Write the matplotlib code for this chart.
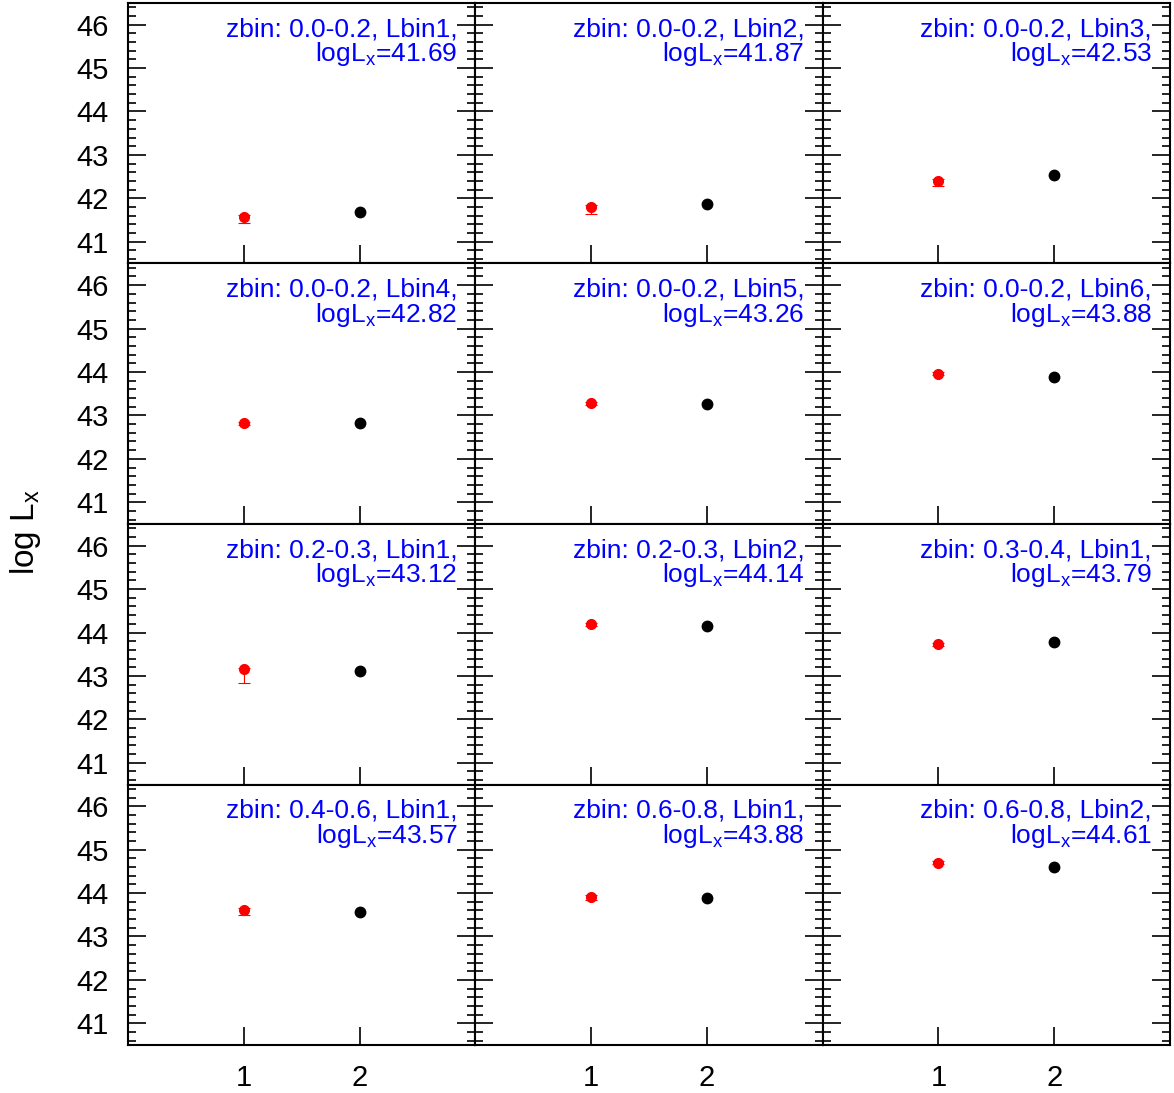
import matplotlib
matplotlib.use('Agg')
import matplotlib.pyplot as plt
from matplotlib.ticker import MultipleLocator

plt.rcParams['font.family'] = ['Liberation Sans', 'DejaVu Sans']
plt.rcParams['mathtext.fontset'] = 'custom'
plt.rcParams['mathtext.rm'] = 'Liberation Sans'
plt.rcParams['mathtext.it'] = 'Liberation Sans'

# redshift / luminosity bins, one per panel (row-major)
zbins = ['0.0-0.2', '0.0-0.2', '0.0-0.2',
         '0.0-0.2', '0.0-0.2', '0.0-0.2',
         '0.2-0.3', '0.2-0.3', '0.3-0.4',
         '0.4-0.6', '0.6-0.8', '0.6-0.8']
lbins = ['Lbin1', 'Lbin2', 'Lbin3',
         'Lbin4', 'Lbin5', 'Lbin6',
         'Lbin1', 'Lbin2', 'Lbin1',
         'Lbin1', 'Lbin1', 'Lbin2']
# reference luminosity (black point, x=2)
logLx = [41.69, 41.87, 42.53,
         42.82, 43.26, 43.88,
         43.12, 44.14, 43.79,
         43.57, 43.88, 44.61]
# estimated luminosity (red point, x=1) with asymmetric errors
est = [41.58, 41.81, 42.41,
       42.83, 43.29, 43.96,
       43.15, 44.19, 43.74,
       43.62, 43.92, 44.70]
err_lo = [0.14, 0.16, 0.12,
          0.05, 0.06, 0.04,
          0.32, 0.04, 0.06,
          0.13, 0.08, 0.03]
err_hi = [0.03, 0.03, 0.03,
          0.03, 0.03, 0.03,
          0.03, 0.03, 0.03,
          0.03, 0.03, 0.03]

fig, axes = plt.subplots(4, 3, figsize=(11.74, 10.93), dpi=100,
                         sharex=True, sharey=True)
fig.subplots_adjust(left=0.109, right=0.9966, top=0.9973, bottom=0.0439,
                    wspace=0, hspace=0)

for i, ax in enumerate(axes.flat):
    ax.errorbar([1], [est[i]], yerr=[[err_lo[i]], [err_hi[i]]], fmt='o',
                color='red', ms=7, elinewidth=0.8, capsize=4, capthick=0.8)
    ax.plot([2], [logLx[i]], 'o', color='black', ms=7.5)
    ax.text(0.948, 0.945,
            'zbin: %s, %s,\nlogL$_\\mathrm{x}$=%.2f' % (zbins[i], lbins[i], logLx[i]),
            transform=ax.transAxes, ha='right', va='top', color='blue',
            fontsize=19, linespacing=0.95)
    ax.set_xlim(0, 3)
    ax.set_ylim(40.5, 46.5)
    ax.set_xticks([1, 2])
    ax.yaxis.set_major_locator(MultipleLocator(1))
    ax.yaxis.set_minor_locator(MultipleLocator(0.2))
    ax.tick_params(axis='y', which='both', direction='in', left=True, right=True)
    ax.tick_params(axis='y', which='major', length=13, width=1.2, labelsize=21, pad=14)
    ax.tick_params(axis='y', which='minor', length=6, width=1.2)
    ax.tick_params(axis='x', which='major', direction='in', length=13, width=1.2,
                   labelsize=21, pad=14, top=False)
    for s in ax.spines.values():
        s.set_linewidth(1.5)

fig.text(0.022, 0.513, 'log L$_\\mathrm{x}$', rotation=90, ha='center', va='center',
         fontsize=24)

fig.savefig('out.png', dpi=100)
